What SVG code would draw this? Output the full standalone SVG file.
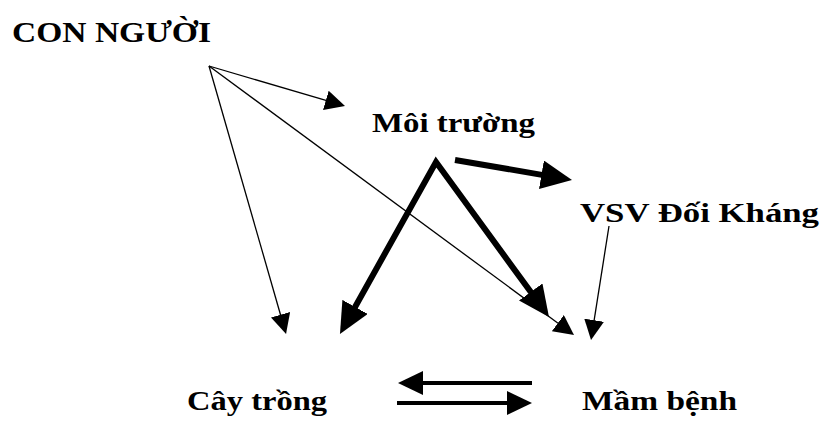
<svg xmlns="http://www.w3.org/2000/svg" width="820" height="421" viewBox="0 0 820 421">
<style>
text{font-family:"Liberation Serif","DejaVu Serif",serif;fill:#000;font-weight:bold}
.lbl{font-size:27px}
.top{font-size:30px}
.thin{stroke:#000;stroke-width:1.3;fill:none;marker-end:url(#hThin)}
.thick{stroke:#000;stroke-width:6;fill:none;stroke-linejoin:miter;stroke-miterlimit:10}
.mid{stroke:#000;stroke-width:4;fill:none;marker-end:url(#hMid)}
</style>
<defs>
<marker id="hThin" markerUnits="userSpaceOnUse" markerWidth="20" markerHeight="20" refX="1" refY="10" orient="auto"><path d="M0,0 L20,10 L0,20 z" fill="#000"/></marker>
<marker id="hThick" markerUnits="userSpaceOnUse" markerWidth="31" markerHeight="29" refX="2" refY="14.5" orient="auto-start-reverse"><path d="M0,0 L31,14.5 L0,29 z" fill="#000"/></marker>
<marker id="hMid" markerUnits="userSpaceOnUse" markerWidth="25" markerHeight="24" refX="2" refY="12" orient="auto"><path d="M0,0 L25,12 L0,24 z" fill="#000"/></marker>
</defs>
<rect width="820" height="421" fill="#fff"/>
<g id="connectors">
<path class="thin" d="M209,66 L326.8,100.6"/>
<path class="thin" d="M209,66 L280.8,315.7"/>
<path class="thin" d="M209,66 L558.7,323.7"/>
<path class="thin" d="M609,226 L594,321.2"/>
<path class="thick" d="M354.1,308.7 L436,162 L531.9,293.6" marker-start="url(#hThick)" marker-end="url(#hThick)"/>
<path class="thick" d="M455,160 L543.4,175.1" marker-end="url(#hThick)"/>
<path class="mid" d="M532,383 L421,383"/>
<path class="mid" d="M397,403 L509,403"/>
</g>
<g id="con-nguoi"><text class="top" x="12" y="42" textLength="199" lengthAdjust="spacingAndGlyphs">CON NGƯỜI</text></g>
<g id="moi-truong"><text class="lbl" x="372" y="132" textLength="163" lengthAdjust="spacingAndGlyphs">Môi trường</text></g>
<g id="vsv-doi-khang"><text class="lbl" x="580" y="222" textLength="239" lengthAdjust="spacingAndGlyphs">VSV Đối Kháng</text></g>
<g id="cay-trong"><text class="lbl" x="187" y="410" textLength="140" lengthAdjust="spacingAndGlyphs">Cây trồng</text></g>
<g id="mam-benh"><text class="lbl" x="582" y="410" textLength="155" lengthAdjust="spacingAndGlyphs">Mầm bệnh</text></g>
</svg>
